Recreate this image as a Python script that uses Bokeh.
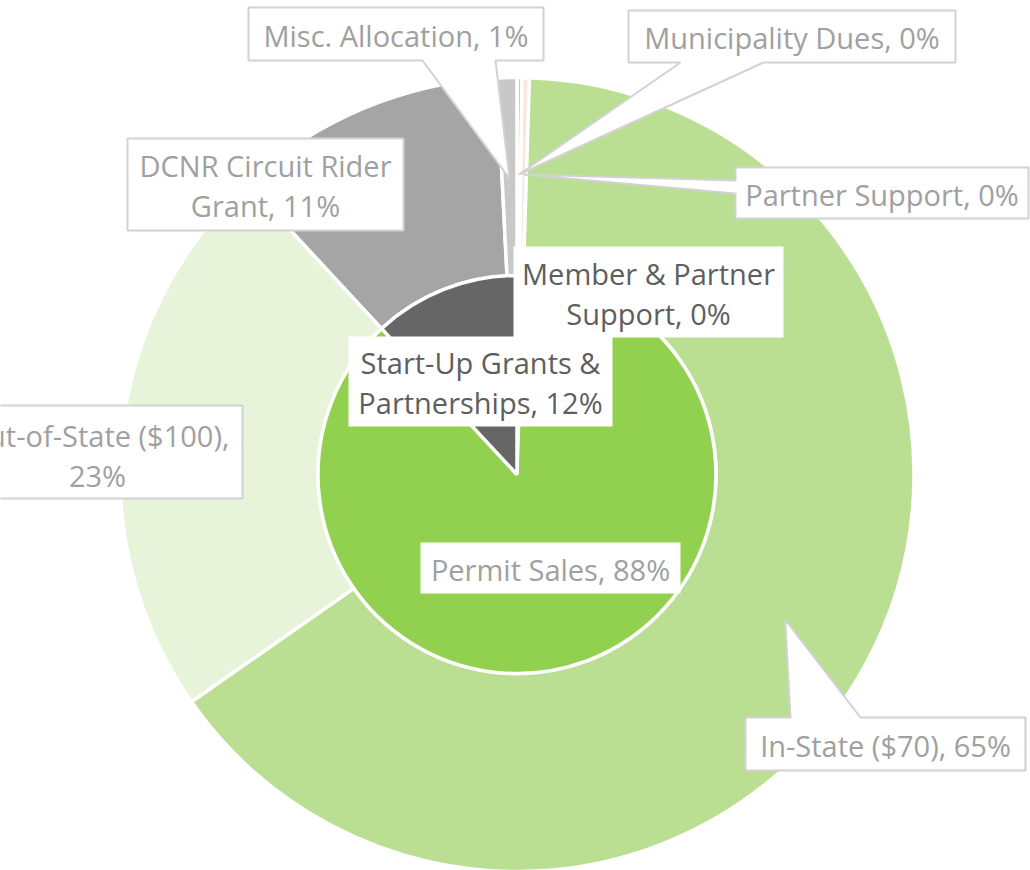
import math
from bokeh.plotting import figure
from bokeh.models import Range1d
from bokeh.core.properties import value
from bokeh.embed import file_html
from bokeh.resources import INLINE

# ---------------- data ----------------
parent_names = ["Member & Partner Support", "Permit Sales", "Start-Up Grants & Partnerships"]
parent_values = [0.5, 87.6, 11.9]
parent_colors = ["#F4B183", "#92D050", "#666666"]

child_names = ["Municipality Dues", "Partner Support", "In-State ($70)",
               "Out-of-State ($100)", "DCNR Circuit Rider Grant", "Misc. Allocation"]
child_values = [0.2, 0.3, 64.8, 22.8, 11.1, 0.8]
child_colors = ["#F4B6A6", "#FBE6DE", "#BADF92", "#E8F4DA", "#A5A5A5", "#C8C8C8"]

# ---------------- layout ----------------
W, H = 1030, 870
CX, CY = 516.5, 474.0          # centre (screen px)
R_IN, R_OUT = 199.0, 397.0

def Y(y):                      # screen y -> data y
    return H - y

def ang(frac):                 # clockwise from 12 o'clock -> bokeh angle
    return math.pi / 2 - 2 * math.pi * frac

def spans(vals):
    tot = sum(vals)
    out, c = [], 0.0
    for v in vals:
        out.append((c / tot, (c + v) / tot))
        c += v
    return out

p = figure(width=W, height=H, x_range=Range1d(0, W), y_range=Range1d(0, H),
           x_axis_type=None, y_axis_type=None, output_backend="svg",
           toolbar_location=None, min_border=0)
p.outline_line_color = None
p.background_fill_color = "white"
p.border_fill_color = "white"
p.grid.visible = False

pspans = spans(parent_values)
cspans = spans(child_values)

# outer ring
p.annular_wedge(x=[CX] * len(child_values), y=[Y(CY)] * len(child_values),
                inner_radius=R_IN, outer_radius=R_OUT,
                start_angle=[ang(b) for a, b in cspans],
                end_angle=[ang(a) for a, b in cspans],
                fill_color=child_colors, line_color="white", line_width=3.5)
# inner pie
p.wedge(x=[CX] * len(parent_values), y=[Y(CY)] * len(parent_values),
        radius=R_IN,
        start_angle=[ang(b) for a, b in pspans],
        end_angle=[ang(a) for a, b in pspans],
        fill_color=parent_colors, line_color="white", line_width=3.5)

def point_on(span, r):
    m = (span[0] + span[1]) / 2
    a = 2 * math.pi * m
    return CX + r * math.sin(a), CY - r * math.cos(a)

LIGHT = "#A0A0A0"
DARK = "#5E5E5E"
BORDER = "#D2D2D2"

labels = []
for i, n in enumerate(child_names):
    labels.append((n, child_values[i], cspans[i]))
for i, n in enumerate(parent_names):
    labels.append((n, parent_values[i], pspans[i]))

layout = {
    "Misc. Allocation": dict(box=(248, 7, 543, 60), brk=None, col=LIGHT, border=True,
                             ptr=("bottom", 422, 495), r=296),
    "Municipality Dues": dict(box=(628, 10, 955, 62), brk=None, col=LIGHT, border=True,
                              ptr=("bottom", 680, 763), r=300),
    "Partner Support": dict(box=(735, 167, 1028, 218), brk=None, col=LIGHT, border=True,
                            ptr=("left", 180, 193), r=300),
    "In-State ($70)": dict(box=(745, 717, 1025, 770), brk=None, col=LIGHT, border=True,
                           ptr=("top", 790, 860), r=305),
    "Out-of-State ($100)": dict(box=(-52, 405, 242, 498), brk=2, col=LIGHT, border=True,
                                ptr=None, ty=455, tx=97),
    "DCNR Circuit Rider Grant": dict(box=(127, 138, 403, 230), brk=3, col=LIGHT, border=True,
                                     ptr=None),
    "Start-Up Grants & Partnerships": dict(box=(348, 336, 612, 426), brk=3, col=DARK,
                                           border=False, ptr=None),
    "Member & Partner Support": dict(box=(513, 246, 783, 337), brk=3, col=DARK,
                                     border=False, ptr=None),
    "Permit Sales": dict(box=(420, 542, 680, 593), brk=None, col=LIGHT, border=False,
                         ptr=None),
}

for name, v, span in labels:
    L = layout[name]
    x0, y0, x1, y1 = L["box"]
    if L["ptr"] is None:
        xs = [x0, x1, x1, x0]
        ys = [y0, y0, y1, y1]
    else:
        ax, ay = point_on(span, L["r"])
        side, s0, s1 = L["ptr"]
        if side == "bottom":
            xs = [x0, x1, x1, s1, ax, s0, x0]
            ys = [y0, y0, y1, y1, ay, y1, y1]
        elif side == "top":
            xs = [x0, s0, ax, s1, x1, x1, x0]
            ys = [y0, y0, ay, y0, y0, y1, y1]
        else:  # left
            xs = [x0, x1, x1, x0, x0, ax, x0]
            ys = [y0, y0, y1, y1, s1, ay, s0]
    p.patch(x=xs, y=[Y(t) for t in ys], fill_color="white",
            line_color=BORDER if L["border"] else None,
            line_width=2 if L["border"] else 0)

    text = f"{name}, {v:.0f}%"
    words = text.split(" ")
    if L["brk"] is None:
        lines = [text]
    else:
        lines = [" ".join(words[:L["brk"]]), " ".join(words[L["brk"]:])]
    tcx = L.get("tx", (x0 + x1) / 2)
    tcy = L.get("ty", (y0 + y1) / 2 + 1)
    n = len(lines)
    for k, ln in enumerate(lines):
        ty = tcy + (k - (n - 1) / 2) * 40
        p.text(x=[tcx], y=[Y(ty)], text=[ln], text_align="center",
               text_baseline="middle", text_color=L["col"],
               text_font=value("Open Sans"), text_font_size="29px")

open("out.html", "w").write(file_html(p, INLINE))
